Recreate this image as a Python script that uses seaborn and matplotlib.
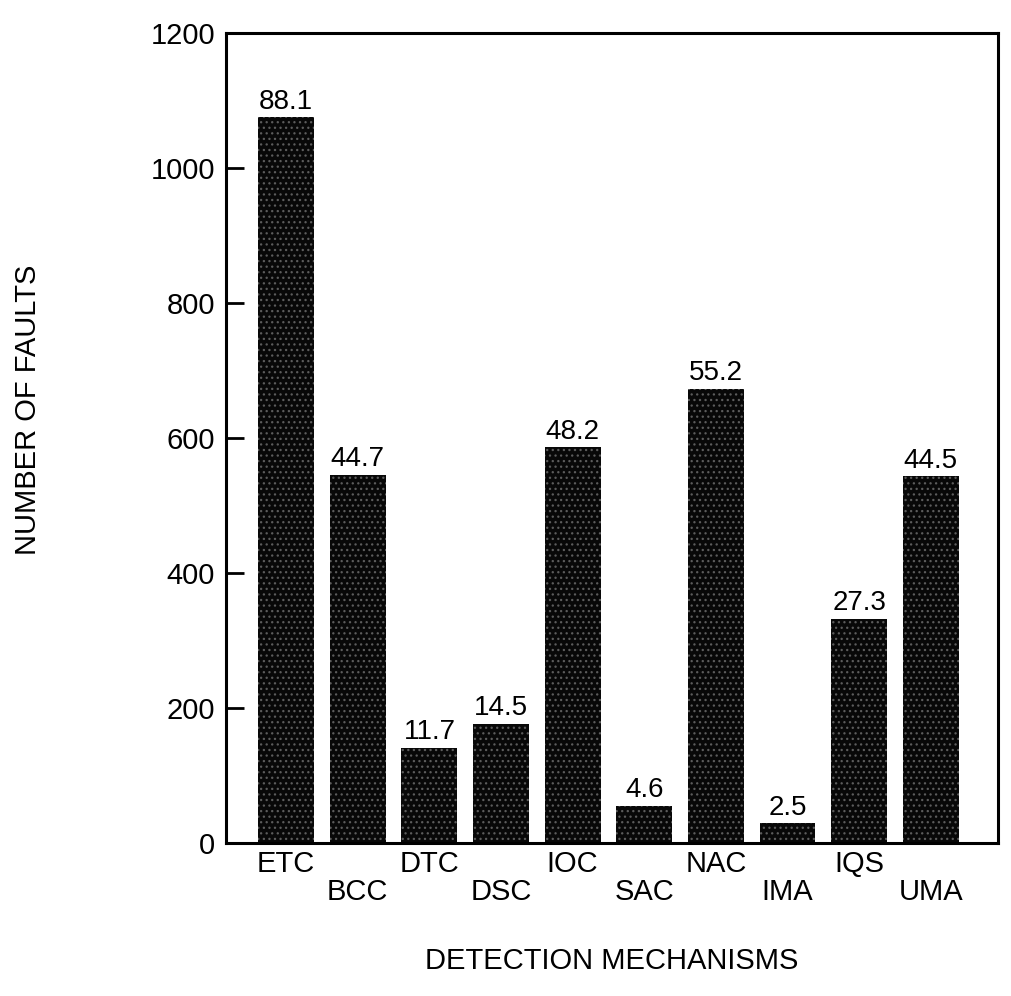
import matplotlib
matplotlib.use("Agg")
import matplotlib.pyplot as plt
import seaborn as sns
import pandas as pd

mechanisms = ["ETC", "BCC", "DTC", "DSC", "IOC", "SAC", "NAC", "IMA", "IQS", "UMA"]
faults = [1075, 545, 141, 177, 586, 55, 673, 29, 332, 543]
percent_labels = ["88.1", "44.7", "11.7", "14.5", "48.2", "4.6", "55.2", "2.5", "27.3", "44.5"]
y_ticks = [0, 200, 400, 600, 800, 1000, 1200]

sns.set_theme(style="white")
plt.rcParams["font.family"] = ["Liberation Sans", "DejaVu Sans"]
plt.rcParams["hatch.linewidth"] = 0.9

df = pd.DataFrame({"mechanism": mechanisms, "faults": faults})

fig = plt.figure(figsize=(10.11, 9.96), dpi=100)
W, H = 1011, 996
left, right, top, bottom = 226, 998, 33, 843
ax = fig.add_axes([left / W, 1 - bottom / H, (right - left) / W, (bottom - top) / H])

sns.barplot(data=df, x="mechanism", y="faults", order=mechanisms, color="#080808",
            saturation=1, width=0.78, edgecolor="#5c5c5c", linewidth=0,
            hatch="...", ax=ax)

ax.set_ylim(0, 1200)
ax.set_xlim(-0.84, 9.94)
ax.set_yticks(y_ticks)
ax.set_yticklabels([str(t) for t in y_ticks], fontsize=21)
ax.tick_params(axis="y", direction="in", length=13, width=2, pad=8, left=True, colors="black")

xt = [m if i % 2 == 0 else "\n" + m for i, m in enumerate(mechanisms)]
ax.set_xticks(range(len(mechanisms)))
ax.set_xticklabels(xt, fontsize=21, linespacing=1.0)
ax.tick_params(axis="x", length=0, pad=5, colors="black")

for i, (v, lab) in enumerate(zip(faults, percent_labels)):
    ax.text(i, v + 4, lab, ha="center", va="bottom", fontsize=20, color="black")

for s in ax.spines.values():
    s.set_visible(True)
    s.set_color("black")
    s.set_linewidth(2.2)

ax.set_ylabel("NUMBER OF FAULTS", fontsize=21, color="black")
ax.set_xlabel("DETECTION MECHANISMS", fontsize=21, color="black")
ax.yaxis.set_label_coords(-0.238, 0.535)
ax.xaxis.set_label_coords(0.5, -0.128)

fig.savefig("out.png", dpi=100, facecolor="white")
